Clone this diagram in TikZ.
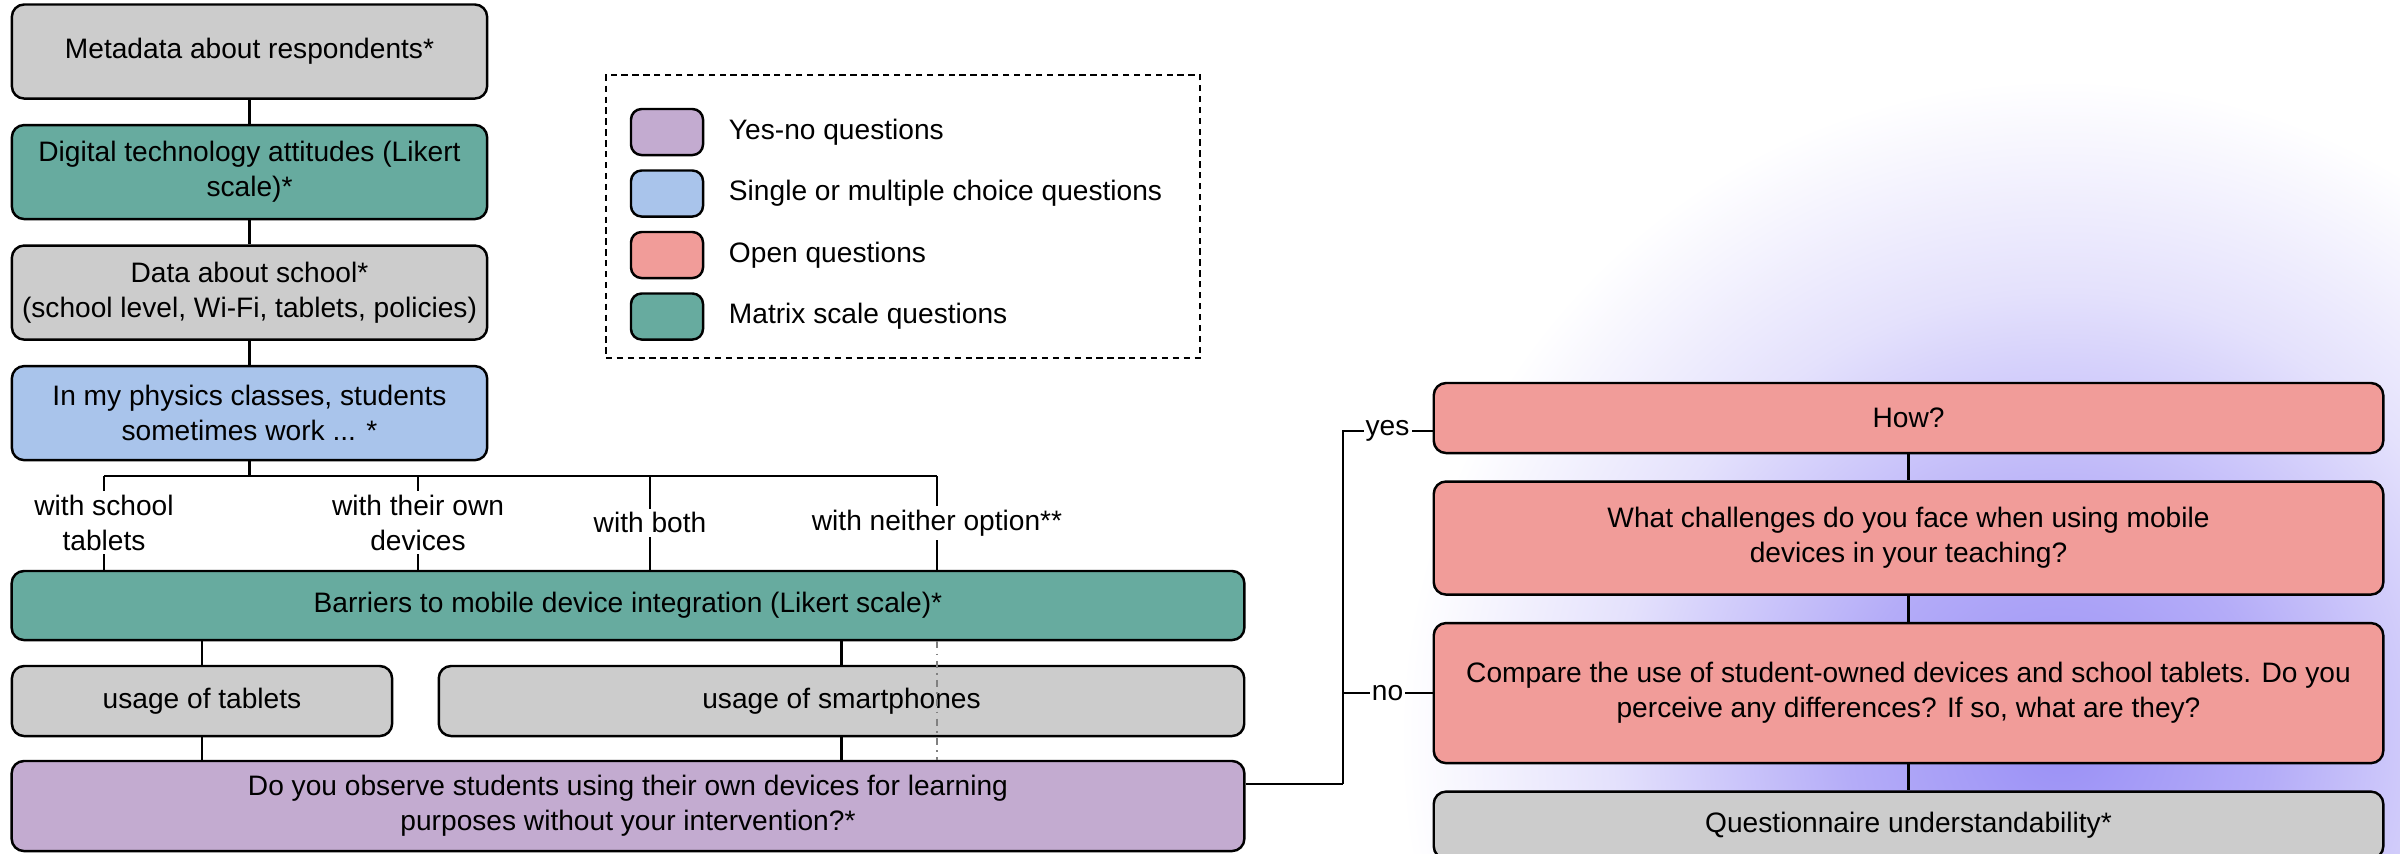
\documentclass[tikz,border=0pt]{standalone}
\usepackage{fontspec}
\setmainfont{Liberation Sans}
\usetikzlibrary{positioning}
\definecolor{greyq}{HTML}{CCCCCC}
\definecolor{greenq}{HTML}{67AB9F}
\definecolor{blueq}{HTML}{A9C4EB}
\definecolor{redq}{HTML}{F19C99}
\definecolor{purpleq}{HTML}{C3ABD0}
\definecolor{glowa}{HTML}{9A90F6}
\definecolor{glowb}{HTML}{B4ACF8}
\definecolor{glowc}{HTML}{E4E1FC}
\pgfdeclareradialshading{glow}{\pgfpoint{0bp}{0bp}}{color(0bp)=(glowa); color(8bp)=(glowb); color(17bp)=(glowc); color(25bp)=(white); color(50bp)=(white)}
\tikzset{
    box/.style={rectangle,draw,rounded corners=3.5pt,line width=0.7pt,align=center,minimum height=0.94cm,inner sep=2pt},
    greybox/.style={box,fill=greyq},
    greenbox/.style={box,fill=greenq},
    bluebox/.style={box,fill=blueq},
    redbox/.style={box,fill=redq},
    purplebox/.style={box,fill=purpleq},
    swatch/.style={rectangle,draw,rounded corners=3pt,line width=0.7pt,minimum width=0.72cm,minimum height=0.46cm},
    legendtext/.style={inner sep=0pt,anchor=west},
    link/.style={-,line width=0.6pt},
    skip/.style={-,line width=0.4pt,gray,dash pattern=on 2pt off 1.5pt on 0.5pt off 1.5pt},
    choice/.style={fill=white,align=center,inner sep=1pt},
    answer/.style={fill=white,inner sep=0.6pt}
}

\begin{document}
\begin{tikzpicture}[x=0.01cm,y=-0.01cm,font=\fontsize{8}{10}\selectfont]
    % glow behind the right column
    \begin{scope}
        \clip (0,0) rectangle (2400,853);
        \shade[shading=glow] (2060,740) circle (6.6cm);
    \end{scope}
    \useasboundingbox (0,0) rectangle (2400,853);

    % left column
    \node[greybox,minimum width=4.75cm] (meta) at (249.5,51.5) {Metadata about respondents*};
    \node[greenbox,minimum width=4.75cm] (attitudes) [below=0.24cm of meta] {Digital technology attitudes (Likert\\scale)*};
    \node[greybox,minimum width=4.75cm] (school) [below=0.24cm of attitudes] {Data about school*\\(school level, Wi-Fi, tablets, policies)};
    \node[bluebox,minimum width=4.75cm] (physics) [below=0.24cm of school] {In my physics classes, students\\sometimes work ... *};

    \draw[link] (meta) -- (attitudes);
    \draw[link] (attitudes) -- (school);
    \draw[link] (school) -- (physics);

    \node[greenbox,minimum width=12.32cm,minimum height=0.69cm] (barriers) at (628,605.5) {Barriers to mobile device integration (Likert scale)*};
    \node[greybox,minimum width=3.8cm,minimum height=0.7cm] (tablets) at (202,701) {usage of tablets};
    \node[greybox,minimum width=8.05cm,minimum height=0.7cm] (phones) at (841.5,701) {usage of smartphones};
    \node[purplebox,minimum width=12.32cm,minimum height=0.9cm] (observe) at (628,806) {Do you observe students using their own devices for learning\\purposes without your intervention?*};

    % the four answers
    \coordinate (school tabs) at (104,476);
    \coordinate (own) at (418,476);
    \coordinate (both) at (650,476);
    \coordinate (neither) at (937,476);
    \draw[link] (physics) -- (physics |- own);
    \draw[link] (school tabs) -- (neither);
    \draw[link] (school tabs) -- node[choice] {with school\\tablets} (school tabs |- barriers.north);
    \draw[link] (own) -- node[choice] {with their own\\devices} (own |- barriers.north);
    \draw[link] (both) -- node[choice] {with both} (both |- barriers.north);
    \draw[link] (neither) -- node[choice] {with neither option**} (neither |- barriers.north);

    \draw[link] (tablets.north |- barriers.south) -- (tablets);
    \draw[link] (phones.north |- barriers.south) -- (phones);
    \draw[link] (tablets) -- (tablets.south |- observe.north);
    \draw[link] (phones) -- (phones.south |- observe.north);
    \draw[skip] (neither |- barriers.south) -- (neither |- observe.north);

    % legend
    \node[draw,line width=0.6pt,dash pattern=on 1.8pt off 1.3pt,minimum width=5.94cm,minimum height=2.83cm] (legend) at (903,216.5) {};
    \node[swatch,fill=purpleq] (yes no) at (667,132) {};
    \node[swatch,fill=blueq] (choice) [below=0.13cm of yes no] {};
    \node[swatch,fill=redq] (open) [below=0.13cm of choice] {};
    \node[swatch,fill=greenq] (matrix) [below=0.13cm of open] {};
    \node[legendtext] (yes no text) [right=0.24cm of yes no] {Yes-no questions};
    \node[legendtext] (choice text) [right=0.24cm of choice] {Single or multiple choice questions};
    \node[legendtext] (open text) [right=0.24cm of open] {Open questions};
    \node[legendtext] (matrix text) [right=0.24cm of matrix] {Matrix scale questions};

    % right column
    \node[redbox,minimum width=9.49cm,minimum height=0.7cm] (how) at (1908.5,418) {How?};
    \node[redbox,minimum width=9.49cm,minimum height=1.13cm] (challenges) [below=0.26cm of how] {What challenges do you face when using mobile\\devices in your teaching?};
    \node[redbox,minimum width=9.49cm,minimum height=1.4cm] (compare) [below=0.26cm of challenges] {Compare the use of student-owned devices and school tablets. Do you\\perceive any differences? If so, what are they?};
    \node[greybox,minimum width=9.49cm,minimum height=0.67cm] (clarity) [below=0.26cm of compare] {Questionnaire understandability*};

    \draw[link] (how) -- (challenges);
    \draw[link] (challenges) -- (compare);
    \draw[link] (compare) -- (clarity);

    \draw[link] ([yshift=0.22cm]observe.east) -- ++(97,0) coordinate (split);
    \draw[link] (split) |- node[answer,pos=0.75] {yes} ([yshift=-0.13cm]how.west);
    \draw[link] (split |- compare.west) -- node[answer] {no} (compare.west);
\end{tikzpicture}
\end{document}
